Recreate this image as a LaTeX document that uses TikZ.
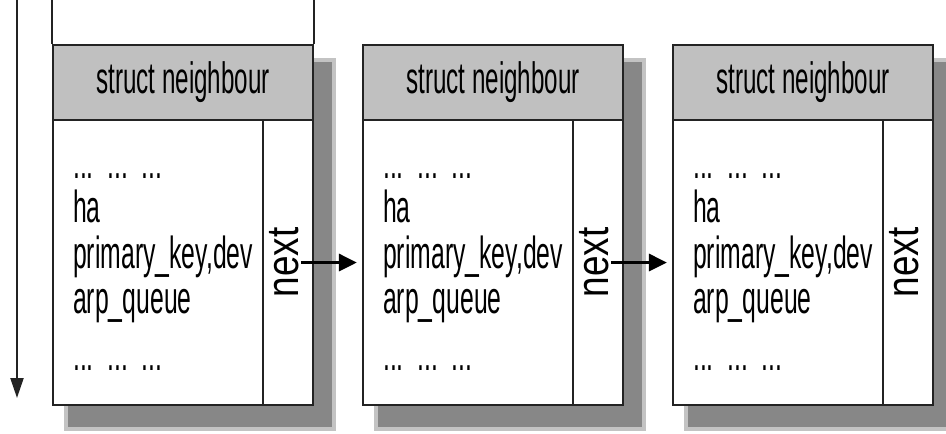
\documentclass[tikz,border=0pt]{standalone}
\usepackage{fontspec}
\setmainfont{Liberation Sans}[FakeStretch=0.55]
\newfontfamily\nextfont{Liberation Sans}[FakeStretch=0.82]
\usetikzlibrary{arrows.meta}
\definecolor{hdrgray}{RGB}{192,192,192}
\definecolor{shadowgray}{RGB}{135,135,135}
\definecolor{rimgray}{RGB}{195,195,195}
\definecolor{linegray}{RGB}{35,35,35}
\tikzset{
  box/.style={draw=linegray,line width=2.2pt},
  header/.style={box,fill=hdrgray,minimum width=260pt,minimum height=75pt,inner sep=0pt,
    font=\fontsize{44}{46}\selectfont},
  body/.style={box,fill=white,minimum width=260pt,minimum height=285pt,inner sep=0pt},
  nextcell/.style={box,minimum width=50pt,minimum height=285pt,inner sep=0pt},
  nextlbl/.style={rotate=90,inner sep=2pt,font=\nextfont\fontsize{45}{47}\selectfont},
  field/.style={anchor=base west,inner sep=0pt,font=\fontsize{45}{47}\selectfont},
  link/.style={line width=3pt,draw=black,-{Triangle[length=18pt,width=17pt]}}
}
\begin{document}
\begin{tikzpicture}[x=1pt,y=-1pt]
\useasboundingbox (0,0) rectangle (946,434);
% the three list entries
\foreach \i in {1,2,3}{
  \pgfmathsetmacro{\dx}{310*(\i-1)}
  \fill[rimgray] (\dx+64,58) rectangle (\dx+336,431);
  \fill[shadowgray] (\dx+68,62) rectangle (\dx+332,427);
  \node[header] (head\i) at (\dx+183,82.5) {struct neighbour};
  \node[body] (body\i) at (\dx+183,262.5) {};
  \node[nextcell] (next\i) at (\dx+288,262.5) {};
  \node[nextlbl] (nextlbl\i) at (\dx+284,262.5) {next};
  \foreach \txt/\yy [count=\k] in {{...\ \ ...\ \ ...}/178,ha/222,primary\_key{,}dev/268,arp\_queue/313,{...\ \ ...\ \ ...}/370}
    \node[field] (f\i-\k) at (\dx+73,\yy) {\txt};
}
% first entry is open at the top
\draw[box] (head1.north west) -- ++(0,-46);
\draw[box] (head1.north east) -- ++(0,-46);
% next pointers
\draw[link] (nextlbl1.south) -- ([xshift=-5pt]body2.west);
\draw[link] (nextlbl2.south) -- ([xshift=-5pt]body3.west);
% list direction
\coordinate (dstart) at (17,0);
\coordinate (dend) at (17,398);
\draw[box,-{Triangle[length=20pt,width=13pt]}] (dstart) -- (dend);
\end{tikzpicture}
\end{document}
